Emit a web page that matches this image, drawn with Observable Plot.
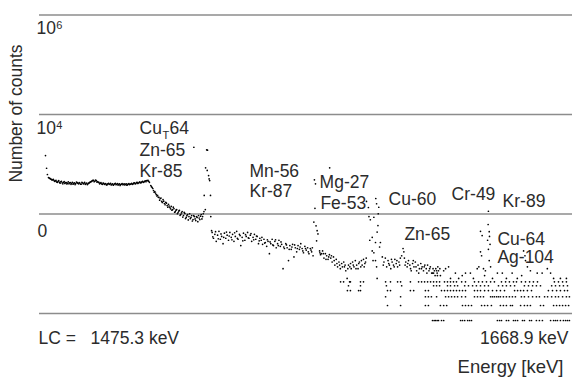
<!DOCTYPE html>
<html>
<head>
<meta charset="utf-8">
<script src="https://cdn.jsdelivr.net/npm/d3@7"></script>
<script src="https://cdn.jsdelivr.net/npm/@observablehq/plot@0.6"></script>
<style>
  html, body { margin: 0; padding: 0; background: #fff; }
</style>
</head>
<body>
<div id="chart"></div>
<script>
// Energy window of the spectrum (keV)
const lcEnergy = 1475.3;
const endEnergy = 1668.9;

// Horizontal reference lines (decades of counts) and their labels
const gridDecades = [1, 1e2, 1e4, 1e6];
const tickValues = [1e6, 1e4];
const tickBase = ["10", "10"];
const tickExp = ["6", "4"];
const zeroTick = 1e2;

// Spectrum points: [energy keV, counts]
const continuumLow = [
  [1476.4,2070],[1476.8,1150],[1477.1,860],
  [1477.5,748],[1478.0,720],[1478.5,690],[1479.0,672],[1479.5,655],[1480.0,640],[1480.5,610],[1481.0,628],
  [1481.5,598],[1482.0,612],[1482.5,585],[1483.0,600],[1483.5,570],[1484.0,592],[1484.5,576],[1485.0,560],
  [1485.5,590],[1486.0,572],[1486.5,548],[1487.0,583],[1487.5,566],[1488.0,594],[1488.5,560],[1489.0,578],
  [1489.5,552],[1490.0,586],[1490.5,570],[1491.0,545],[1491.5,580],[1492.0,562],[1492.5,590],[1493.0,612],
  [1493.5,640],[1494.0,655],[1494.5,630],[1495.0,648],[1495.5,620],[1496.0,596],[1496.5,575],[1497.0,558],
  [1497.5,580],[1498.0,547],[1498.5,565],[1499.0,538],[1499.5,572],[1500.0,553],[1500.5,530],[1501.0,560],
  [1501.5,542],[1502.0,568],[1502.5,548],[1503.0,528],[1503.5,556],[1504.0,540],[1504.5,565],[1505.0,545],
  [1505.5,532],[1506.0,558],[1506.5,538],[1507.0,562],[1507.5,548],[1508.0,570],[1508.5,556],[1509.0,584],
  [1509.5,566],[1510.0,598],[1510.5,580],[1511.0,610],[1511.5,592],[1512.0,625],[1512.5,606],[1513.0,640],
  [1513.5,652],[1514.0,660],[1514.5,600],
  [1477.75,730],[1478.25,700],[1478.75,668],[1479.25,690],[1479.75,628],[1480.25,660],[1480.75,600],[1481.25,645],
  [1481.75,575],[1482.25,630],[1482.75,560],[1483.25,618],[1483.75,590],[1484.25,555],[1484.75,612],[1485.25,582],
  [1485.75,545],[1486.25,600],[1486.75,570],[1487.25,540],[1487.75,605],[1488.25,575],[1488.75,590],[1489.25,548],
  [1489.75,600],[1490.25,560],[1490.75,595],[1491.25,565],[1491.75,540],[1492.25,575],[1492.75,605],[1493.25,625],
  [1493.75,660],[1494.25,618],[1494.75,665],[1495.25,605],[1495.75,600],[1496.25,560],[1496.75,590],[1497.25,545],
  [1497.75,570],[1498.25,555],[1498.75,530],[1499.25,560],[1499.75,545],[1500.25,570],[1500.75,548],[1501.25,525],
  [1501.75,558],[1502.25,535],[1502.75,562],[1503.25,545],[1503.75,520],[1504.25,552],[1504.75,535],[1505.25,560],
  [1505.75,548],[1506.25,525],[1506.75,555],[1507.25,540],[1507.75,560],[1508.25,545],[1508.75,575],[1509.25,560],
  [1509.75,590],[1510.25,570],[1510.75,600],[1511.25,585],[1511.75,615],[1512.25,598],[1512.75,630],[1513.25,615],
  [1513.75,645],[1514.25,630]
];

const shoulder = [
  [1515.0,517],[1515.5,471],[1516.0,410],[1516.5,392],[1517.0,340],[1517.5,326],[1518.0,298],[1518.5,283],
  [1519.0,247],[1519.5,270],[1520.0,225],[1520.5,236],[1521.0,205],[1521.5,215],[1522.0,187],[1522.5,196],
  [1523.0,170],[1523.5,178],[1524.0,155],[1524.5,170],[1525.0,148],[1525.5,163],[1526.0,135],[1526.5,155],
  [1527.0,129],[1527.5,142],[1528.0,118],[1528.5,135],[1529.0,123],[1529.5,112],[1530.0,129],[1530.5,107],
  [1531.0,123],[1531.5,102],[1532.0,118],[1532.5,129],[1533.0,107],[1533.5,135],[1534.0,123],[1534.5,155],
  [1515.25,490],[1515.75,450],[1516.25,380],[1516.75,365],[1517.25,318],[1517.75,300],[1518.25,262],[1518.75,290],
  [1519.25,236],[1519.75,250],[1520.25,212],[1520.75,228],[1521.25,190],[1521.75,200],[1522.25,176],[1522.75,165],
  [1523.25,190],[1523.75,150],[1524.25,165],[1524.75,140],[1525.25,158],[1525.75,130],[1526.25,145],[1526.75,120],
  [1527.25,150],[1527.75,112],[1528.25,128],[1528.75,105],[1529.25,140],[1529.75,118],[1530.25,100],[1530.75,128],
  [1531.25,110],[1531.75,122],[1532.25,97],[1532.75,115],[1533.25,125],[1533.75,110],[1534.25,140]
];

const peak1536 = [
  [1530.8,3040],[1535.5,2700],[1535.8,2650],[1535.1,1170],[1535.7,1040],[1536.2,820],[1536.4,700],
  [1536.6,650],[1534.6,326],[1536.9,326],[1535.0,170],[1537.0,123],[1537.3,64]
];

const continuumMid = [
  [1537.5,59],[1538.0,45],[1538.5,54],[1539.0,39],[1539.5,52],[1540.0,62],[1540.5,43],[1541.0,49],
  [1541.5,35],[1542.0,57],[1542.5,45],[1543.0,52],[1543.5,41],[1544.0,59],[1544.5,47],[1545.0,54],
  [1545.5,39],[1546.0,49],[1546.5,62],[1547.0,43],[1547.5,54],[1548.0,32],[1548.5,47],[1549.0,57],
  [1549.5,41],[1550.0,49],[1550.5,59],[1551.0,45],[1551.5,52],[1552.0,39],[1552.5,47],[1553.0,54],
  [1553.5,43],[1554.0,49],[1554.5,35],[1555.0,45],[1555.5,41],[1556.0,34],[1556.5,43],[1557.0,37],
  [1557.5,31],[1558.0,39],[1558.5,22],[1559.0,35],[1559.5,43],[1560.0,32],[1560.5,39],[1561.0,29],
  [1561.5,35],[1562.0,41],[1562.5,31],[1563.0,34],[1563.5,11],[1564.0,28],[1564.5,35],[1565.0,29],
  [1565.5,16],[1566.0,32],[1566.5,27],[1567.0,34],[1567.5,19],[1568.0,29],[1568.5,24],[1569.0,32],
  [1569.5,27],[1570.0,35],[1570.5,28],[1571.0,23],[1571.5,31],[1572.0,26],[1572.5,29],[1573.0,22],
  [1573.5,28],[1574.0,24],[1574.5,20],
  [1537.75,48],[1538.75,61],[1539.75,44],[1540.75,55],[1541.75,47],[1542.75,60],[1543.75,50],[1544.75,42],
  [1545.75,58],[1546.75,45],[1547.75,51],[1548.75,40],[1549.75,53],[1550.75,46],[1551.75,56],[1552.75,42],
  [1553.75,50],[1554.75,40],[1555.75,47],[1556.75,36],[1557.75,42],[1558.75,38],[1559.75,33],[1560.75,42],
  [1561.75,32],[1562.75,38],[1563.75,30],[1564.75,33],[1565.75,27],[1566.75,30],[1567.75,33],[1568.75,28],
  [1569.75,30],[1570.75,25],[1571.75,28],[1572.75,24],[1573.75,26],[1574.25,29]
];

const peak1575 = [
  [1575.0,673],[1575.4,560],[1575.2,180],[1574.8,95],[1575.6,80],[1576.0,64],[1576.3,55],[1575.8,40],
  [1576.9,25],[1577.5,22],[1580.6,1173]
];

const continuumMid2 = [
  [1577.0,23],[1577.25,21],[1578.0,25],[1578.25,22],[1578.5,18],[1579.0,22],[1579.25,17],[1579.5,20],
  [1580.0,17],[1580.25,19],[1580.5,21],[1581.0,18],[1581.25,20],[1581.5,15],[1582.0,19],[1582.25,16],
  [1582.5,13],[1583.0,17],[1583.25,14],[1583.5,12],[1584.0,15],[1584.25,13],[1584.5,11],[1585.0,14],
  [1585.25,12],[1585.75,15],[1586.0,12],[1586.25,13],[1586.5,10],[1587.0,7],[1587.25,11],[1587.5,13],
  [1588.0,12],[1588.25,14],[1588.5,11],[1589.0,15],[1589.25,13],[1589.5,12],[1590.0,16],[1590.25,11],
  [1590.5,13],[1591.0,11],[1591.25,14],[1591.5,15],[1592.0,12],[1592.25,16],[1592.5,13],[1593.0,17],
  [1593.25,12],[1593.5,14],[1593.75,15],[1594.0,18]
];

const peak1597 = [
  [1594.1,247],[1594.8,187],[1595.0,123],[1595.5,106],[1595.3,41],[1596.2,25],[1596.5,16],[1597.8,222],
  [1598.6,189],[1598.4,140],[1598.3,81],[1598.0,60],[1599.2,37],[1598.9,30],[1599.9,19],[1596.2,47],
  [1597.4,37],[1596.8,23],[1597.4,16],[1597.8,12],[1598.0,7],[1596.8,119],[1597.5,283]
];

const continuumHigh = [
  [1600.5,15],[1601.0,18],[1601.5,12],[1602.0,16],[1602.5,13],[1603.0,11],[1603.5,15],[1604.0,13],
  [1604.5,17],[1605.0,14],[1605.5,12],[1606.0,15],[1606.5,18],[1607.0,20],[1607.5,28],[1607.8,24],
  [1608.0,18],[1608.5,15],[1609.0,12],[1609.5,16],[1610.0,13],[1610.5,10],[1611.0,14],[1611.5,12],
  [1612.0,15],[1612.5,10],[1613.0,13],[1613.5,11],[1614.0,14],[1614.5,12],[1615.0,10],[1615.5,13],
  [1616.0,11],[1616.5,13],[1617.0,10],[1617.5,12],[1618.0,9],[1618.5,11],[1619.0,10],[1619.5,11],
  [1620.0,9],[1620.5,10],[1621.0,11],
  [1600.25,13],[1602.25,14],[1603.25,17],[1604.25,12],[1605.25,16],[1606.25,13],[1608.25,13],[1609.25,14],
  [1610.25,11],[1611.25,16],[1612.25,12],[1613.25,9],[1614.25,11],[1615.25,12],[1616.25,9],[1617.25,11],
  [1619.25,8],[1620.25,12]
];

const tailScatter = [
  [1618.3,9],[1618.7,9],[1619.8,10],[1620.1,8],[1621.2,8],[1622.4,10],[1623.1,11],[1624.2,12],[1624.9,7],
  [1626.7,9],[1627.9,7],[1629.2,8],[1630.4,9],[1632.2,9],[1633.3,7],[1634.7,11],[1635.3,12],[1637.4,8],
  [1640.3,7],[1642.1,9],[1643.9,9],[1645.4,7],[1647.5,9],[1649.4,7],[1651.0,8],[1654.2,10],[1656.7,9],
  [1658.5,9],[1660.4,11],[1661.6,9],[1662.7,7],[1665.2,7],[1667.4,7]
];

const peak1639 = [
  [1638.8,157],[1638.7,85],[1639.1,61],[1639.2,49],[1638.5,41],[1639.4,34],[1638.8,27],[1639.1,16],
  [1639.6,12],[1635.9,62],[1636.5,51],[1635.9,24],[1636.3,20],[1637.0,11],[1637.7,10]
];

const peak1652 = [[1651.7,25],[1652.2,20],[1652.4,16],[1653.1,12]];

// Sparse high-energy channels, grouped by their (small) count
const oneCount = [
  1618.3,1618.9,1619.4,1620.0,1620.5,1621.6,1622.4,
  1628.6,1629.3,1630.1,1631.2,1631.9,1632.6,
  1642.1,1642.9,1643.6,1645.4,1646.2,1648.0,1648.7,1649.5,1651.3,1652.0,1653.9,1654.6,
  1656.4,1657.5,1658.6,
  1661.6,1662.7,1663.4,1664.1,1665.2,1666.3,1667.1,1667.8,1668.5
];
const twoCounts = [
  1601.8,1606.6,1615.7,1616.8,1621.2,1622.4,1623.5,1629.3,1630.4,1631.5,1632.6,1636.3,1637.4,1638.5,
  1639.9,1643.2,1644.3,1645.4,1646.9,1647.6,1650.6,1652.0,1653.1,1654.2,1657.9,1659.0,1662.7,1663.8,
  1664.9,1666.0,1667.1,1668.2
];
const threeCounts = [
  1601.1,1606.6,1615.7,1616.8,1617.9,1619.8,1623.1,1624.2,1625.3,1626.4,1627.5,1629.0,1630.4,1633.7,
  1634.8,1635.9,1637.0,1639.6,1640.3,1641.0,1641.8,1642.5,1643.2,1644.3,1645.4,1646.5,1647.6,1648.7,
  1650.9,1652.0,1653.5,1655.0,1656.4,1657.5,1659.4,1660.5,1662.0,1663.4,1664.5,1666.0,1667.4,1668.5
];
const fourCounts = [
  1587.1,1588.2,1591.2,1591.9,1601.8,1602.9,1610.2,1611.4,1615.7,1616.8,1621.6,1622.7,1623.8,1624.9,
  1626.0,1627.1,1628.2,1629.3,1630.4,1633.7,1634.8,1635.9,1637.4,1638.8,1640.3,1641.8,1643.2,1644.7,
  1648.4,1649.5,1650.6,1651.7,1653.1,1654.6,1660.8,1662.3,1663.8,1665.2,1666.7,1667.8
];
const fiveCounts = [
  1587.5,1591.9,1601.4,1607.0,1618.7,1619.8,1620.9,1623.8,1624.9,1626.4,1627.5,1630.1,1631.5,1633.0,
  1634.4,1635.9,1637.4,1638.8,1642.5,1644.0,1645.4,1646.9,1648.4,1652.0,1653.5,1655.0,1656.4,1657.9,
  1662.0,1663.4,1664.9,1666.3,1667.8
];
const sixCounts = [
  1584.6,1585.7,1587.9,1588.2,1591.9,1593.0,1601.1,1602.9,1605.5,1606.6,1610.2,1613.2,1614.3,1615.4,
  1616.5,1617.6,1618.7,1619.8,1620.9,1622.7,1623.8,1624.9,1626.0,1627.1,1629.0,1630.4,1633.7,1635.2,
  1636.6,1638.1,1639.6,1641.0,1643.6,1645.1,1646.5,1648.0,1649.1,1650.9,1652.4,1653.9,1655.3,1656.8,
  1663.0,1664.5,1666.0,1667.4
];

// Nuclide annotations: text, energy anchor (keV), count anchor (baseline)
const labelText = ["Cu", "64", "Zn-65", "Kr-85", "Mn-56", "Kr-87", "Mg-27", "Fe-53", "Cu-60", "Cr-49", "Kr-89", "Zn-65", "Cu-64", "Ag-104"];
const labelKeV  = [1510.9, 1521.9, 1510.9, 1510.9, 1551.2, 1551.2, 1576.9, 1577.2, 1602.2, 1625.3, 1644.0, 1608.0, 1642.1, 1642.1];
const labelCounts = [5660, 5660, 1980, 759, 759, 301, 461, 178, 210, 267, 189, 41, 33.7, 14.3];
const subscriptText = ["T"];
const subscriptKeV = [1519.3];
const subscriptCounts = [4450];

// Assemble the point table
const rowGroups = [[1, oneCount], [2, twoCounts], [3, threeCounts], [4, fourCounts], [5, fiveCounts], [6, sixCounts]];
const spectrum = [
  ...continuumLow, ...shoulder, ...peak1536, ...continuumMid, ...peak1575, ...continuumMid2,
  ...peak1597, ...continuumHigh, ...tailScatter, ...peak1639, ...peak1652,
  ...rowGroups.flatMap(([n, energies]) => energies.map(e => [e, n]))
];
const labels = labelText.map((t, i) => ({text: t, keV: labelKeV[i], counts: labelCounts[i]}));
const subscripts = subscriptText.map((t, i) => ({text: t, keV: subscriptKeV[i], counts: subscriptCounts[i]}));
const ticks = tickValues.map((v, i) => ({value: v, base: tickBase[i], exp: tickExp[i]}));

const ink = "#2b2b2b";
const fs = 17.5;

const chart = Plot.plot({
  width: 572,
  height: 378,
  marginLeft: 39,
  marginRight: 0,
  marginTop: 0,
  marginBottom: 34.5,
  style: {fontFamily: "'Liberation Sans', Arial, Helvetica, sans-serif", fontSize: "17.5px", color: ink, background: "#fff"},
  x: {domain: [lcEnergy, endEnergy], range: [42, 570], axis: null},
  y: {type: "log", domain: [1, 1e6], range: [320, 21.5], axis: null},
  marks: [
    Plot.ruleY(gridDecades, {dy: -7, stroke: "#8c8c8c", strokeWidth: 1.6}),
    Plot.text(ticks, {y: "value", text: "base", frameAnchor: "left", textAnchor: "start", lineAnchor: "bottom", dx: -3, dy: 12, fontSize: fs, fill: ink}),
    Plot.text(ticks, {y: "value", text: "exp", frameAnchor: "left", textAnchor: "start", lineAnchor: "bottom", dx: 16.8, dy: 7, fontSize: 11, fill: ink}),
    Plot.text([zeroTick], {y: d => d, text: () => "0", frameAnchor: "left", textAnchor: "start", lineAnchor: "bottom", dx: -2, dy: 15.5, fontSize: fs, fill: ink}),
    Plot.dot(spectrum, {x: d => d[0], y: d => d[1], r: 0.85, fill: "#000", stroke: null}),
    Plot.text(labels, {x: "keV", y: "counts", text: "text", textAnchor: "start", lineAnchor: "bottom", fontSize: fs, fill: ink}),
    Plot.text(subscripts, {x: "keV", y: "counts", text: "text", textAnchor: "start", lineAnchor: "bottom", fontSize: 11, fill: ink}),
    Plot.text(["Number of counts"], {text: d => d, frameAnchor: "top-left", rotate: -90, textAnchor: "middle", lineAnchor: "middle", dx: -22.7, dy: 113, fontSize: fs, fill: ink}),
    Plot.text(["LC ="], {text: d => d, frameAnchor: "bottom-left", textAnchor: "start", lineAnchor: "bottom", dx: -1, fontSize: fs, fill: ink}),
    Plot.text([lcEnergy], {text: d => `${d.toFixed(1)} keV`, frameAnchor: "bottom-left", textAnchor: "start", lineAnchor: "bottom", dx: 51, fontSize: fs, fill: ink}),
    Plot.text([endEnergy], {text: d => `${d.toFixed(1)} keV`, frameAnchor: "bottom-right", textAnchor: "end", lineAnchor: "bottom", dx: -4, fontSize: fs, fill: ink}),
    Plot.text(["Energy [keV]"], {text: d => d, frameAnchor: "bottom-right", textAnchor: "end", lineAnchor: "bottom", dx: -9, dy: 28.5, fontSize: 18.5, fill: ink})
  ]
});

document.getElementById("chart").appendChild(chart);
</script>
</body>
</html>
